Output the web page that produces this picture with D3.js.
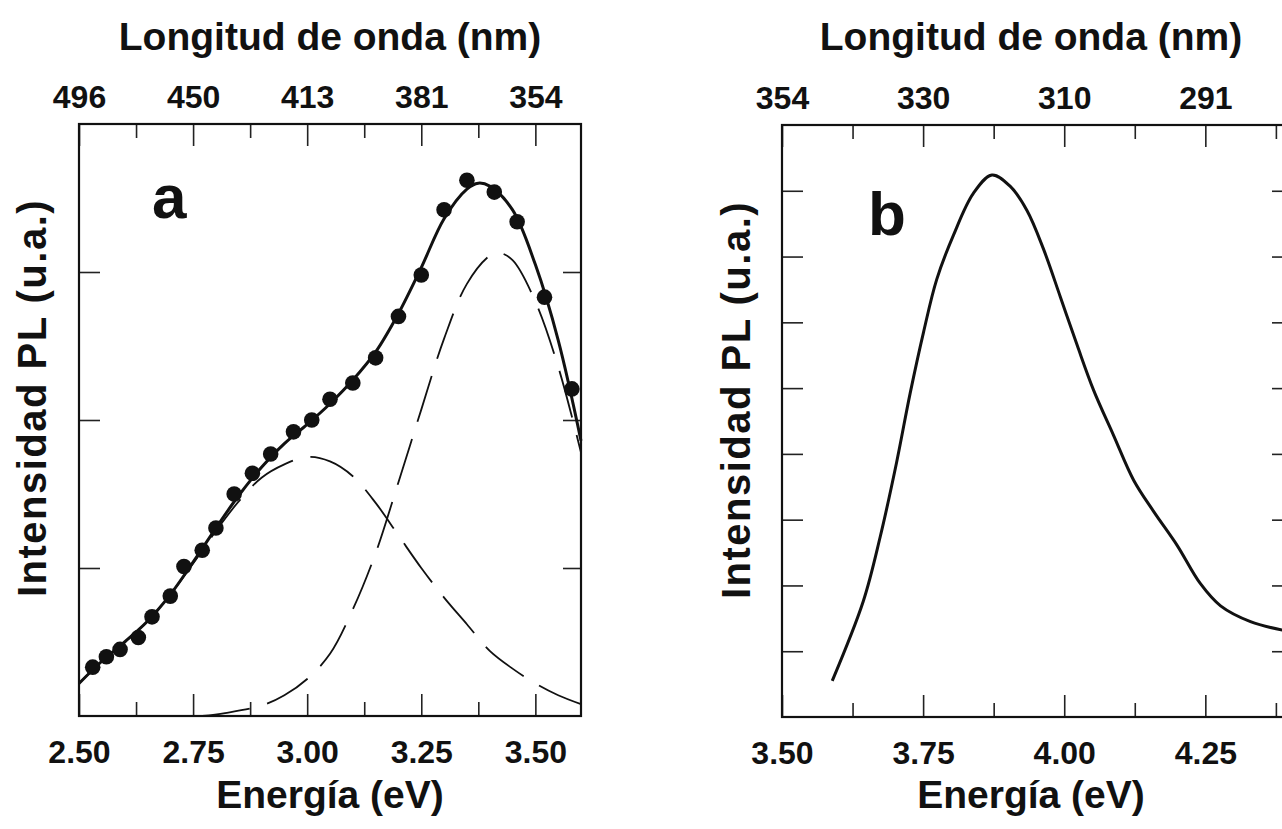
<!DOCTYPE html>
<html>
<head>
<meta charset="utf-8">
<script src="https://cdn.jsdelivr.net/npm/d3@7"></script>
<style>
  body { margin: 0; background: #fff; }
  svg text { font-family: "Liberation Sans", Arial, sans-serif; font-weight: bold; fill: #111; }
</style>
</head>
<body>
<svg id="chart" width="1282" height="829"></svg>
<script>
// panel a: measured PL points
const dotsE = [2.53, 2.56, 2.59, 2.63, 2.66, 2.70, 2.73, 2.77, 2.80, 2.84, 2.88, 2.92, 2.97,
  3.01, 3.05, 3.10, 3.15, 3.20, 3.25, 3.30, 3.35, 3.41, 3.46, 3.52, 3.58];
const dotsI = [0.33, 0.40, 0.45, 0.53, 0.67, 0.81, 1.01, 1.12, 1.27, 1.50, 1.64, 1.77, 1.92,
  2.00, 2.14, 2.25, 2.42, 2.70, 2.98, 3.42, 3.62, 3.54, 3.34, 2.83, 2.21];

// panel a: fitted curve (solid)
const fitE = [2.50, 2.55, 2.60, 2.65, 2.70, 2.75, 2.80, 2.85, 2.90, 2.95, 3.00, 3.05, 3.10,
  3.15, 3.20, 3.25, 3.30, 3.35, 3.375, 3.40, 3.45, 3.50, 3.55, 3.60];
const fitI = [0.22, 0.37, 0.50, 0.64, 0.82, 1.04, 1.27, 1.49, 1.68, 1.84, 1.97, 2.11, 2.27,
  2.46, 2.72, 3.03, 3.36, 3.56, 3.60, 3.58, 3.42, 3.05, 2.54, 1.86];

// panel a: low energy component (dashed)
const band1E = [2.50, 2.55, 2.60, 2.65, 2.70, 2.75, 2.80, 2.85, 2.90, 2.95, 3.00, 3.05, 3.10,
  3.15, 3.20, 3.25, 3.30, 3.35, 3.40, 3.45, 3.50, 3.55, 3.60];
const band1I = [0.22, 0.37, 0.50, 0.64, 0.82, 1.03, 1.25, 1.45, 1.61, 1.70, 1.75, 1.72, 1.62,
  1.44, 1.22, 1.00, 0.80, 0.62, 0.44, 0.32, 0.22, 0.14, 0.08];

// panel a: high energy component (dashed)
const band2E = [2.77, 2.82, 2.90, 2.95, 3.00, 3.05, 3.10, 3.15, 3.20, 3.25, 3.30, 3.35, 3.40,
  3.42, 3.45, 3.50, 3.55, 3.60];
const band2I = [0.00, 0.02, 0.07, 0.14, 0.25, 0.42, 0.72, 1.10, 1.58, 2.07, 2.55, 2.92, 3.11,
  3.13, 3.08, 2.80, 2.36, 1.78];

// panel b: PL spectrum
const specE = [3.589, 3.644, 3.674, 3.703, 3.727, 3.751, 3.774, 3.804, 3.839, 3.872, 3.904,
  3.934, 3.963, 3.993, 4.023, 4.052, 4.087, 4.123, 4.158, 4.200, 4.241, 4.277, 4.330, 4.387];
const specI = [0.55, 1.76, 2.74, 3.87, 4.92, 5.86, 6.65, 7.33, 7.96, 8.24, 8.07, 7.70, 7.12,
  6.39, 5.65, 4.97, 4.29, 3.60, 3.13, 2.61, 2.03, 1.69, 1.45, 1.32];

// axis ticks and labels
const majorA = [2.50, 2.75, 3.00, 3.25, 3.50];
const minorA = [2.625, 2.875, 3.125, 3.375];
const nmA = ["496", "450", "413", "381", "354"];
const yTicksA = [1, 2, 3];

const majorB = [3.50, 3.75, 4.00, 4.25];
const minorB = [3.625, 3.875, 4.125, 4.375];
const nmB = ["354", "330", "310", "291"];
const yTicksB = [1, 2, 3, 4, 5, 6, 7, 8];

const svg = d3.select("#chart");
svg.append("rect").attr("width", 1282).attr("height", 829).attr("fill", "#fff");

function drawPanel(p) {
  const x = d3.scaleLinear().domain(p.xDomain).range([p.left, p.right]);
  const y = d3.scaleLinear().domain(p.yDomain).range([p.bottom, p.top]);
  const g = svg.append("g");

  const fmt = d3.format(".2f");
  const styleAxis = (sel) => {
    sel.select(".domain").remove();
    sel.selectAll("line").attr("stroke", "#222").attr("stroke-width", 1.6);
    sel.selectAll("text").attr("font-size", 32).attr("fill", "#111")
      .attr("font-family", '"Liberation Sans", Arial, sans-serif').attr("font-weight", "bold");
  };

  // bottom axis: major with labels, minor without
  g.append("g").attr("transform", `translate(0,${p.bottom})`)
    .call(d3.axisBottom(x).tickValues(p.major).tickSize(-22).tickPadding(24).tickFormat(fmt))
    .call(styleAxis);
  g.append("g").attr("transform", `translate(0,${p.bottom})`)
    .call(d3.axisBottom(x).tickValues(p.minor).tickSize(-14).tickFormat(""))
    .call(styleAxis);

  // top axis: wavelength labels
  g.append("g").attr("transform", `translate(0,${p.top})`)
    .call(d3.axisTop(x).tickValues(p.major).tickSize(-22).tickPadding(16)
      .tickFormat((d, i) => p.nm[i]))
    .call(styleAxis);
  g.append("g").attr("transform", `translate(0,${p.top})`)
    .call(d3.axisTop(x).tickValues(p.minor).tickSize(-14).tickFormat(""))
    .call(styleAxis);

  // left/right ticks, no labels
  g.append("g").attr("transform", `translate(${p.left},0)`)
    .call(d3.axisLeft(y).tickValues(p.yTicks).tickSize(-21).tickFormat(""))
    .call(styleAxis);
  g.append("g").attr("transform", `translate(${p.right},0)`)
    .call(d3.axisRight(y).tickValues(p.yTicks).tickSize(-18).tickFormat(""))
    .call(styleAxis);

  g.append("rect")
    .attr("x", p.left).attr("y", p.top)
    .attr("width", p.right - p.left).attr("height", p.bottom - p.top)
    .attr("fill", "none").attr("stroke", "#111").attr("stroke-width", 2.2);

  const line = d3.line()
    .x((d) => x(d[0]))
    .y((d) => y(d[1]))
    .curve(d3.curveCatmullRom.alpha(0.5));

  p.dashed.forEach((s) => {
    g.append("path")
      .datum(d3.zip(s[0], s[1]))
      .attr("d", line)
      .attr("fill", "none").attr("stroke", "#111")
      .attr("stroke-width", 1.8).attr("stroke-dasharray", "48,18");
  });

  g.append("path")
    .datum(d3.zip(p.curveE, p.curveI))
    .attr("d", line)
    .attr("fill", "none").attr("stroke", "#111").attr("stroke-width", 3);

  if (p.dotsE) {
    g.selectAll("circle.dot")
      .data(d3.zip(p.dotsE, p.dotsI))
      .join("circle")
      .attr("class", "dot")
      .attr("cx", (d) => x(d[0]))
      .attr("cy", (d) => y(d[1]))
      .attr("r", 7.8)
      .attr("fill", "#111");
  }

  // titles
  g.append("text").attr("x", p.titleX).attr("y", 50)
    .attr("text-anchor", "middle").attr("font-size", 39)
    .text("Longitud de onda (nm)");
  g.append("text").attr("x", p.titleX).attr("y", 808)
    .attr("text-anchor", "middle").attr("font-size", 39)
    .text("Energía (eV)");
  g.append("text")
    .attr("transform", `translate(${p.yLabelX},${p.yLabelY}) rotate(-90)`)
    .attr("text-anchor", "middle").attr("font-size", 40)
    .attr("letter-spacing", 1.5)
    .text("Intensidad PL (u.a.)");
  g.append("text").attr("x", p.letterX).attr("y", p.letterY)
    .attr("font-size", 62).text(p.letter);
}

drawPanel({
  xDomain: [2.5, 3.6], yDomain: [0, 4],
  left: 79, right: 581, top: 124, bottom: 716,
  major: majorA, minor: minorA, nm: nmA, yTicks: yTicksA,
  curveE: fitE, curveI: fitI,
  dashed: [[band1E, band1I], [band2E, band2I]],
  dotsE: dotsE, dotsI: dotsI,
  titleX: 330, yLabelX: 46, yLabelY: 398,
  letter: "a", letterX: 152, letterY: 218
});

drawPanel({
  xDomain: [3.5, 4.4], yDomain: [0, 9],
  left: 782, right: 1290, top: 125, bottom: 717,
  major: majorB, minor: minorB, nm: nmB, yTicks: yTicksB,
  curveE: specE, curveI: specI,
  dashed: [],
  titleX: 1031, yLabelX: 750, yLabelY: 400,
  letter: "b", letterX: 868, letterY: 235
});
</script>
</body>
</html>
